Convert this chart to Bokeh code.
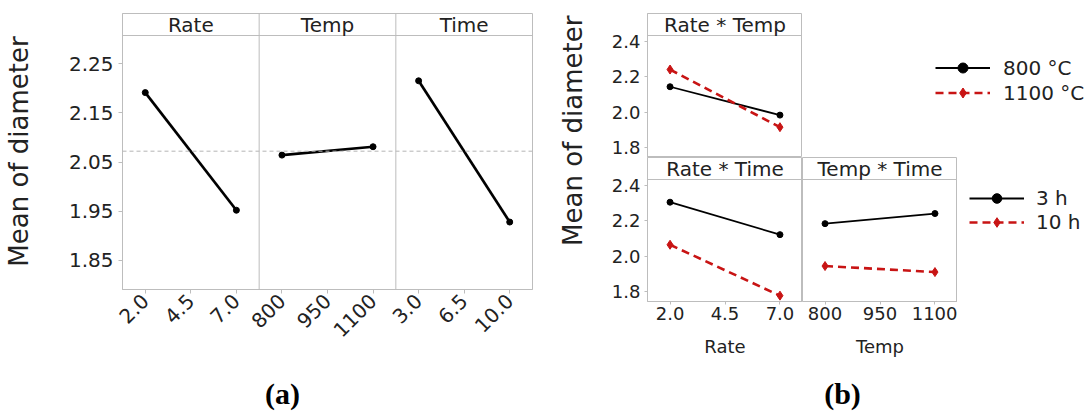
import math
from bokeh.plotting import figure
from bokeh.models import (Range1d, FixedTicker, Span, Label, Legend, LegendItem,
                          NumeralTickFormatter, CustomJSTickFormatter)
from bokeh.layouts import row, column
from bokeh.embed import file_html
from bokeh.resources import INLINE

# ---------------- data ----------------
rate_levels = [2.0, 7.0]
temp_levels = [800, 1100]
time_levels = [3.0, 10.0]

main_rate = [2.191, 1.952]
main_temp = [2.064, 2.081]
main_time = [2.215, 1.928]
grand_mean = 2.072

rt_800 = [2.143, 1.983]
rt_1100 = [2.240, 1.915]
rti_3h = [2.304, 2.121]
rti_10h = [2.064, 1.777]
tti_3h = [2.183, 2.240]
tti_10h = [1.944, 1.910]

rate_ticks = [2.0, 4.5, 7.0]
temp_ticks = [800, 950, 1100]
time_ticks = [3.0, 6.5, 10.0]
rate_tick_labels = ["2.0", "4.5", "7.0"]
temp_tick_labels = ["800", "950", "1100"]
time_tick_labels = ["3.0", "6.5", "10.0"]
a_yticks = [1.85, 1.95, 2.05, 2.15, 2.25]
b_yticks = [1.8, 2.0, 2.2, 2.4]

main_titles = ["Rate", "Temp", "Time"]
inter_titles = ["Rate * Temp", "Rate * Time", "Temp * Time"]
temp_labels = ["800 °C", "1100 °C"]
time_labels = ["3 h", "10 h"]
y_title = "Mean of diameter"
x_titles = ["Rate", "Temp"]
panel_tags = ["(a)", "(b)"]

# axis limits
A_YLO, A_YHI = 1.791, 2.307
B_YLO, B_YHI = 1.744, 2.432

# ---------------- style ----------------
FONT = "DejaVu Sans"
GRAY = "#bdbdbd"
TXT = "#222222"
RED = "#c81414"
HEADER_PX = 22
BLACK_LINE = dict(line_color="black", line_width=1.8)
BLACK_DOT = dict(size=6, color="black")
RED_LINE = dict(line_color=RED, line_width=2.6, line_dash="8 5")
RED_DOT = dict(size=9, marker="diamond", color=RED)


def header_range(lo, hi, frame_h):
    end = hi + HEADER_PX * (hi - lo) / (frame_h - HEADER_PX)
    return Range1d(lo, end), end


def make_fig(width, height, xr, yr, mbl=0, mbr=0, mbt=0, mbb=0, xaxis=True, yaxis=True):
    p = figure(width=width, height=height, x_range=xr, y_range=yr,
               output_backend="svg", toolbar_location=None,
               x_axis_location="below" if xaxis else None,
               y_axis_location="left" if yaxis else None,
               min_border_left=mbl, min_border_right=mbr,
               min_border_top=mbt, min_border_bottom=mbb)
    p.xgrid.visible = False
    p.ygrid.visible = False
    p.outline_line_color = GRAY
    p.outline_line_width = 1
    p.background_fill_color = "white"
    p.border_fill_color = "white"
    return p


def style_axis(ax, size, standoff=4, tick_out=4, orient=None):
    ax.axis_line_color = GRAY
    ax.major_tick_line_color = GRAY
    ax.major_tick_out = tick_out
    ax.major_tick_in = 0
    ax.minor_tick_line_color = None
    ax.major_label_text_font = FONT
    ax.major_label_text_font_size = f"{size}px"
    ax.major_label_text_color = TXT
    ax.major_label_standoff = standoff
    if orient is not None:
        ax.major_label_orientation = orient
    ax.axis_label_text_font = FONT
    ax.axis_label_text_font_style = "normal"
    ax.axis_label_text_color = TXT


def header_label(x, y, text, size):
    return Label(x=x, y=y, text=text, text_align="center", text_baseline="middle",
                 text_font=FONT, text_font_size=f"{size}px", text_color=TXT)


# ---------------- panel (a): main effects, three facets in one frame ----------------
A_H = 360
A_TOP, A_BOT = 13, 71
a_yr, a_yend = header_range(A_YLO, A_YHI, A_H - A_TOP - A_BOT)
A_PAD = 0.25
a_panels = [(rate_levels, main_rate, rate_ticks, rate_tick_labels),
            (temp_levels, main_temp, temp_ticks, temp_tick_labels),
            (time_levels, main_time, time_ticks, time_tick_labels)]
NP = len(a_panels)

pa = make_fig(533, A_H, Range1d(0, NP), a_yr, mbl=120, mbr=1, mbt=A_TOP, mbb=A_BOT)
extra = {}
comb_ticks, comb_labels = [], []
for i, (lv, ys, ticks, labs) in enumerate(a_panels):
    lo, hi = min(lv), max(lv)
    start = lo - (hi - lo) * A_PAD
    span_w = (hi - lo) * (1 + 2 * A_PAD)
    extra[f"f{i}"] = Range1d(start - i * span_w, start + (NP - i) * span_w)
    comb_ticks += [i + (t - start) / span_w for t in ticks]
    comb_labels += labs
pa.extra_x_ranges = extra

style_axis(pa.xaxis[0], 20, standoff=4, orient=math.pi / 4)
pa.xaxis[0].ticker = FixedTicker(ticks=comb_ticks)
pa.xaxis[0].formatter = CustomJSTickFormatter(args=dict(labels=comb_labels),
                                              code="return labels[index];")
style_axis(pa.yaxis[0], 20, standoff=5)
pa.yaxis[0].ticker = FixedTicker(ticks=a_yticks)
pa.yaxis[0].formatter = NumeralTickFormatter(format="0.00")
pa.yaxis[0].axis_label = y_title
pa.yaxis[0].axis_label_text_font_size = "26px"
pa.yaxis[0].axis_label_standoff = 32

pa.add_layout(Span(location=grand_mean, dimension="width", line_color="#b4b4b4",
                   line_width=1, line_dash="4 3"))
for i, (lv, ys, ticks, labs) in enumerate(a_panels):
    pa.line(lv, ys, x_range_name=f"f{i}", line_color="black", line_width=2.7)
    pa.scatter(lv, ys, x_range_name=f"f{i}", size=6, color="black")
pa.add_layout(Span(location=A_YHI, dimension="width", line_color=GRAY, line_width=1))
for i in range(1, NP):
    pa.add_layout(Span(location=i, dimension="height", line_color=GRAY, line_width=1))
for i, title in enumerate(main_titles):
    pa.add_layout(header_label(i + 0.5, (A_YHI + a_yend) / 2, title, 20))

# ---------------- y label of panel (b) ----------------
YL_W = 57
ylab = make_fig(YL_W, A_H, Range1d(0, YL_W), Range1d(0, A_H), xaxis=False, yaxis=False)
ylab.outline_line_color = None
ylab.add_layout(Label(x=39, y=A_H - 153, text=y_title, angle=math.pi / 2,
                      text_align="center", text_baseline="middle", text_font=FONT,
                      text_font_size="26px", text_color=TXT))

# ---------------- panel (b): interactions ----------------
B_FRAME_H = 144
b_yr, b_yend = header_range(B_YLO, B_YHI, B_FRAME_H)
B_PAD = 0.205


def padded(levels, frac):
    lo, hi = min(levels), max(levels)
    d = (hi - lo) * frac
    return Range1d(lo - d, hi + d)


rate_xr = padded(rate_levels, B_PAD)
temp_xr = padded(temp_levels, B_PAD)


def add_pair(p, xs, y_black, y_red):
    p.line(xs, y_black, **BLACK_LINE)
    p.scatter(xs, y_black, **BLACK_DOT)
    p.line(xs, y_red, **RED_LINE)
    p.scatter(xs, y_red, **RED_DOT)


def add_header(p, text):
    p.add_layout(Span(location=B_YHI, dimension="width", line_color=GRAY, line_width=1))
    xr = p.x_range
    p.add_layout(header_label((xr.start + xr.end) / 2, (B_YHI + b_yend) / 2, text, 20))


def legend_fig(width, height, mbt, mbb, labels, loc, glyph_w, standoff, row_h):
    # frameless figure carrying only the key; the key proxies hold a single NaN point
    q = make_fig(width, height, Range1d(0, 1), Range1d(0, 1), mbt=mbt, mbb=mbb,
                 xaxis=False, yaxis=False)
    q.outline_line_color = None
    nan = [float("nan")]
    l1 = q.line(nan, nan, **BLACK_LINE)
    s1 = q.scatter(nan, nan, **BLACK_DOT)
    l2 = q.line(nan, nan, **RED_LINE)
    s2 = q.scatter(nan, nan, **RED_DOT)
    items = [LegendItem(label=labels[0], renderers=[l1, s1]),
             LegendItem(label=labels[1], renderers=[l2, s2])]
    q.add_layout(Legend(items=items, location=loc, glyph_width=glyph_w, glyph_height=row_h,
                        label_height=row_h, label_standoff=standoff, spacing=0, padding=0,
                        margin=0, border_line_color=None, background_fill_alpha=0,
                        label_text_font=FONT, label_text_font_size="20px",
                        label_text_color=TXT))
    return q


def style_b_x(ax, ticks, fmt, title):
    style_axis(ax, 18, standoff=2, tick_out=3)
    ax.ticker = FixedTicker(ticks=ticks)
    ax.formatter = NumeralTickFormatter(format=fmt)
    ax.axis_label = title
    ax.axis_label_text_font_size = "18px"
    ax.axis_label_standoff = 13


def style_b_y(ax):
    style_axis(ax, 18, standoff=4, tick_out=3)
    ax.ticker = FixedTicker(ticks=b_yticks)
    ax.formatter = NumeralTickFormatter(format="0.0")


# top-left: Rate * Temp
b_rt = make_fig(212, 157, rate_xr, b_yr, mbl=57, mbr=0, mbt=13, mbb=0, xaxis=False, yaxis=True)
style_b_y(b_rt.yaxis[0])
add_pair(b_rt, rate_levels, rt_800, rt_1100)
add_header(b_rt, inter_titles[0])
leg1 = legend_fig(284, 157, 13, 0, temp_labels, (133, 52), 55, 13, 25)

# bottom-left: Rate * Time
b_rti = make_fig(212, 203, rate_xr, b_yr, mbl=57, mbr=0, mbt=0, mbb=59, xaxis=True, yaxis=True)
style_b_y(b_rti.yaxis[0])
style_b_x(b_rti.xaxis[0], rate_ticks, "0.0", x_titles[0])
add_pair(b_rti, rate_levels, rti_3h, rti_10h)
add_header(b_rti, inter_titles[1])

# bottom-right: Temp * Time
b_tti = make_fig(155, 203, temp_xr, b_yr, mbl=0, mbr=0, mbt=0, mbb=59, xaxis=True, yaxis=False)
style_b_x(b_tti.xaxis[0], temp_ticks, "0", x_titles[1])
add_pair(b_tti, temp_levels, tti_3h, tti_10h)
add_header(b_tti, inter_titles[2])
leg2 = legend_fig(129, 203, 0, 59, time_labels, (12, 67), 55, 12, 24)

# ---------------- bottom tags ----------------
BW, BH = 1086, 52
tags = make_fig(BW, BH, Range1d(0, BW), Range1d(0, BH), xaxis=False, yaxis=False)
tags.outline_line_color = None
for tx, tag in zip([282, 842], panel_tags):
    tags.add_layout(Label(x=tx, y=19, text=tag, text_align="center",
                          text_baseline="middle", text_font="Liberation Serif",
                          text_font_style="bold", text_font_size="30px", text_color="black"))

b_col = column(row(b_rt, leg1, spacing=0), row(b_rti, b_tti, leg2, spacing=0), spacing=0)
top = row(pa, ylab, b_col, spacing=0)
page = column(top, tags, spacing=0)

open("out.html", "w").write(file_html(page, INLINE, title="Main effects and interactions"))
